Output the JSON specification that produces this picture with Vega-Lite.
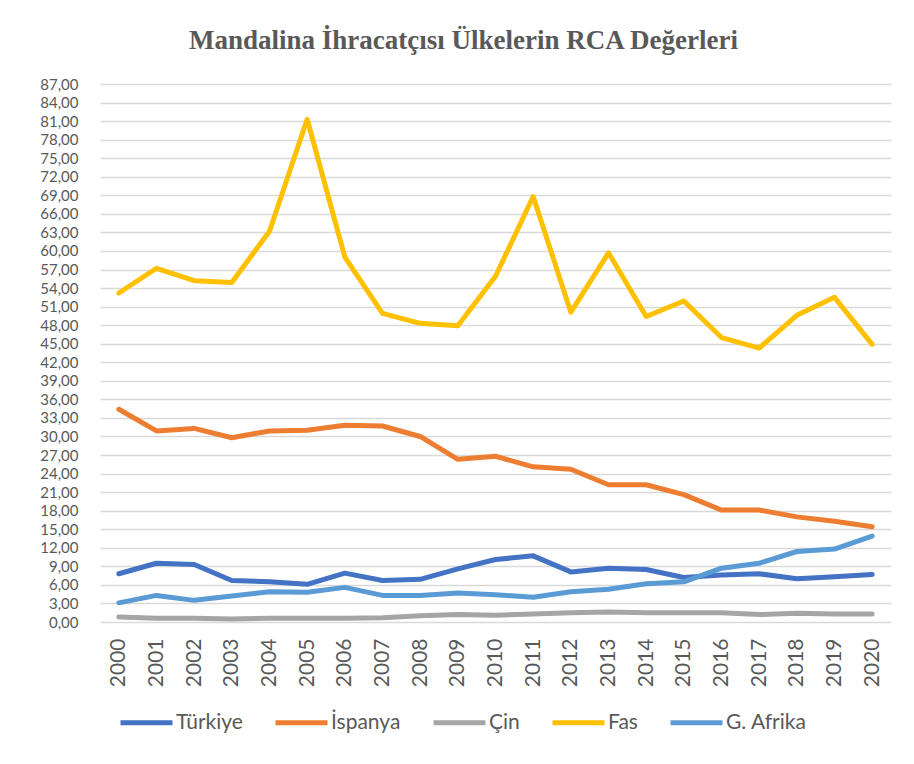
{
  "$schema": "https://vega.github.io/schema/vega-lite/v6.json",
  "autosize": "none",
  "width": 791,
  "height": 538,
  "padding": {"left": 100, "top": 84, "right": 23, "bottom": 142},
  "background": "white",
  "title": {
    "text": "Mandalina İhracatçısı Ülkelerin RCA Değerleri",
    "font": "Liberation Serif",
    "fontSize": 27,
    "fontWeight": "bold",
    "color": "#595959",
    "anchor": "middle",
    "dx": -32,
    "offset": 22
  },
  "config": {
    "view": {"stroke": null},
    "axis": {"labelFont": "Lato", "labelColor": "#595959", "labelFontSize": 21}
  },
  "data": {
    "values": [
      {"yil": "2000", "ulke": "Türkiye", "rca": 7.8},
      {"yil": "2001", "ulke": "Türkiye", "rca": 9.5},
      {"yil": "2002", "ulke": "Türkiye", "rca": 9.3},
      {"yil": "2003", "ulke": "Türkiye", "rca": 6.7},
      {"yil": "2004", "ulke": "Türkiye", "rca": 6.5},
      {"yil": "2005", "ulke": "Türkiye", "rca": 6.1},
      {"yil": "2006", "ulke": "Türkiye", "rca": 7.9},
      {"yil": "2007", "ulke": "Türkiye", "rca": 6.7},
      {"yil": "2008", "ulke": "Türkiye", "rca": 6.9},
      {"yil": "2009", "ulke": "Türkiye", "rca": 8.6},
      {"yil": "2010", "ulke": "Türkiye", "rca": 10.1},
      {"yil": "2011", "ulke": "Türkiye", "rca": 10.7},
      {"yil": "2012", "ulke": "Türkiye", "rca": 8.1},
      {"yil": "2013", "ulke": "Türkiye", "rca": 8.7},
      {"yil": "2014", "ulke": "Türkiye", "rca": 8.5},
      {"yil": "2015", "ulke": "Türkiye", "rca": 7.2},
      {"yil": "2016", "ulke": "Türkiye", "rca": 7.6},
      {"yil": "2017", "ulke": "Türkiye", "rca": 7.8},
      {"yil": "2018", "ulke": "Türkiye", "rca": 7.0},
      {"yil": "2019", "ulke": "Türkiye", "rca": 7.3},
      {"yil": "2020", "ulke": "Türkiye", "rca": 7.7},
      {"yil": "2000", "ulke": "İspanya", "rca": 34.4},
      {"yil": "2001", "ulke": "İspanya", "rca": 30.9},
      {"yil": "2002", "ulke": "İspanya", "rca": 31.3},
      {"yil": "2003", "ulke": "İspanya", "rca": 29.8},
      {"yil": "2004", "ulke": "İspanya", "rca": 30.9},
      {"yil": "2005", "ulke": "İspanya", "rca": 31.0},
      {"yil": "2006", "ulke": "İspanya", "rca": 31.8},
      {"yil": "2007", "ulke": "İspanya", "rca": 31.7},
      {"yil": "2008", "ulke": "İspanya", "rca": 30.0},
      {"yil": "2009", "ulke": "İspanya", "rca": 26.3},
      {"yil": "2010", "ulke": "İspanya", "rca": 26.8},
      {"yil": "2011", "ulke": "İspanya", "rca": 25.1},
      {"yil": "2012", "ulke": "İspanya", "rca": 24.7},
      {"yil": "2013", "ulke": "İspanya", "rca": 22.2},
      {"yil": "2014", "ulke": "İspanya", "rca": 22.2},
      {"yil": "2015", "ulke": "İspanya", "rca": 20.6},
      {"yil": "2016", "ulke": "İspanya", "rca": 18.1},
      {"yil": "2017", "ulke": "İspanya", "rca": 18.1},
      {"yil": "2018", "ulke": "İspanya", "rca": 17.0},
      {"yil": "2019", "ulke": "İspanya", "rca": 16.3},
      {"yil": "2020", "ulke": "İspanya", "rca": 15.4},
      {"yil": "2000", "ulke": "Çin", "rca": 0.8},
      {"yil": "2001", "ulke": "Çin", "rca": 0.6},
      {"yil": "2002", "ulke": "Çin", "rca": 0.6},
      {"yil": "2003", "ulke": "Çin", "rca": 0.5},
      {"yil": "2004", "ulke": "Çin", "rca": 0.6},
      {"yil": "2005", "ulke": "Çin", "rca": 0.6},
      {"yil": "2006", "ulke": "Çin", "rca": 0.6},
      {"yil": "2007", "ulke": "Çin", "rca": 0.7},
      {"yil": "2008", "ulke": "Çin", "rca": 1.0},
      {"yil": "2009", "ulke": "Çin", "rca": 1.2},
      {"yil": "2010", "ulke": "Çin", "rca": 1.1},
      {"yil": "2011", "ulke": "Çin", "rca": 1.3},
      {"yil": "2012", "ulke": "Çin", "rca": 1.5},
      {"yil": "2013", "ulke": "Çin", "rca": 1.6},
      {"yil": "2014", "ulke": "Çin", "rca": 1.5},
      {"yil": "2015", "ulke": "Çin", "rca": 1.5},
      {"yil": "2016", "ulke": "Çin", "rca": 1.5},
      {"yil": "2017", "ulke": "Çin", "rca": 1.2},
      {"yil": "2018", "ulke": "Çin", "rca": 1.4},
      {"yil": "2019", "ulke": "Çin", "rca": 1.3},
      {"yil": "2020", "ulke": "Çin", "rca": 1.3},
      {"yil": "2000", "ulke": "Fas", "rca": 53.2},
      {"yil": "2001", "ulke": "Fas", "rca": 57.2},
      {"yil": "2002", "ulke": "Fas", "rca": 55.2},
      {"yil": "2003", "ulke": "Fas", "rca": 54.9},
      {"yil": "2004", "ulke": "Fas", "rca": 63.2},
      {"yil": "2005", "ulke": "Fas", "rca": 81.3},
      {"yil": "2006", "ulke": "Fas", "rca": 59.0},
      {"yil": "2007", "ulke": "Fas", "rca": 49.9},
      {"yil": "2008", "ulke": "Fas", "rca": 48.3},
      {"yil": "2009", "ulke": "Fas", "rca": 47.9},
      {"yil": "2010", "ulke": "Fas", "rca": 55.9},
      {"yil": "2011", "ulke": "Fas", "rca": 68.8},
      {"yil": "2012", "ulke": "Fas", "rca": 50.1},
      {"yil": "2013", "ulke": "Fas", "rca": 59.7},
      {"yil": "2014", "ulke": "Fas", "rca": 49.4},
      {"yil": "2015", "ulke": "Fas", "rca": 51.9},
      {"yil": "2016", "ulke": "Fas", "rca": 46.0},
      {"yil": "2017", "ulke": "Fas", "rca": 44.3},
      {"yil": "2018", "ulke": "Fas", "rca": 49.6},
      {"yil": "2019", "ulke": "Fas", "rca": 52.5},
      {"yil": "2020", "ulke": "Fas", "rca": 44.9},
      {"yil": "2000", "ulke": "G. Afrika", "rca": 3.1},
      {"yil": "2001", "ulke": "G. Afrika", "rca": 4.3},
      {"yil": "2002", "ulke": "G. Afrika", "rca": 3.5},
      {"yil": "2003", "ulke": "G. Afrika", "rca": 4.2},
      {"yil": "2004", "ulke": "G. Afrika", "rca": 4.9},
      {"yil": "2005", "ulke": "G. Afrika", "rca": 4.8},
      {"yil": "2006", "ulke": "G. Afrika", "rca": 5.6},
      {"yil": "2007", "ulke": "G. Afrika", "rca": 4.3},
      {"yil": "2008", "ulke": "G. Afrika", "rca": 4.3},
      {"yil": "2009", "ulke": "G. Afrika", "rca": 4.7},
      {"yil": "2010", "ulke": "G. Afrika", "rca": 4.4},
      {"yil": "2011", "ulke": "G. Afrika", "rca": 4.0},
      {"yil": "2012", "ulke": "G. Afrika", "rca": 4.9},
      {"yil": "2013", "ulke": "G. Afrika", "rca": 5.3},
      {"yil": "2014", "ulke": "G. Afrika", "rca": 6.2},
      {"yil": "2015", "ulke": "G. Afrika", "rca": 6.5},
      {"yil": "2016", "ulke": "G. Afrika", "rca": 8.7},
      {"yil": "2017", "ulke": "G. Afrika", "rca": 9.5},
      {"yil": "2018", "ulke": "G. Afrika", "rca": 11.4},
      {"yil": "2019", "ulke": "G. Afrika", "rca": 11.8},
      {"yil": "2020", "ulke": "G. Afrika", "rca": 13.9}
    ]
  },
  "mark": {"type": "line", "strokeWidth": 5, "strokeCap": "round", "strokeJoin": "round"},
  "encoding": {
    "x": {
      "field": "yil",
      "type": "ordinal",
      "scale": {"type": "point", "padding": 0.5},
      "axis": {
        "title": null,
        "labelAngle": -90,
        "labelAlign": "right",
        "labelBaseline": "middle",
        "ticks": false,
        "domain": false,
        "grid": false,
        "labelPadding": 16
      }
    },
    "y": {
      "field": "rca",
      "type": "quantitative",
      "scale": {"domain": [0, 87], "nice": false},
      "axis": {
        "title": null,
        "values": [0,3,6,9,12,15,18,21,24,27,30,33,36,39,42,45,48,51,54,57,60,63,66,69,72,75,78,81,84,87],
        "labelExpr": "replace(format(datum.value, '.2f'), '.', ',')",
        "labelOverlap": false,
        "labelFontSize": 15,
        "ticks": false,
        "domain": false,
        "grid": true,
        "gridColor": "#D9D9D9",
        "gridWidth": 1.5,
        "labelPadding": 22,
        "labelBaseline": "middle"
      }
    },
    "color": {
      "field": "ulke",
      "type": "nominal",
      "sort": ["Türkiye", "İspanya", "Çin", "Fas", "G. Afrika"],
      "scale": {
        "domain": ["Türkiye", "İspanya", "Çin", "Fas", "G. Afrika"],
        "range": ["#4472C4", "#ED7D31", "#A5A5A5", "#FFC000", "#5B9BD5"]
      },
      "legend": {
        "title": null,
        "orient": "none",
        "legendX": 18,
        "legendY": 610,
        "direction": "horizontal",
        "symbolType": "stroke",
        "symbolSize": 2700,
        "symbolStrokeWidth": 5,
        "labelFont": "Lato",
        "labelFontSize": 21,
        "labelColor": "#595959",
        "labelOffset": 1,
        "columnPadding": 22
      }
    }
  }
}
